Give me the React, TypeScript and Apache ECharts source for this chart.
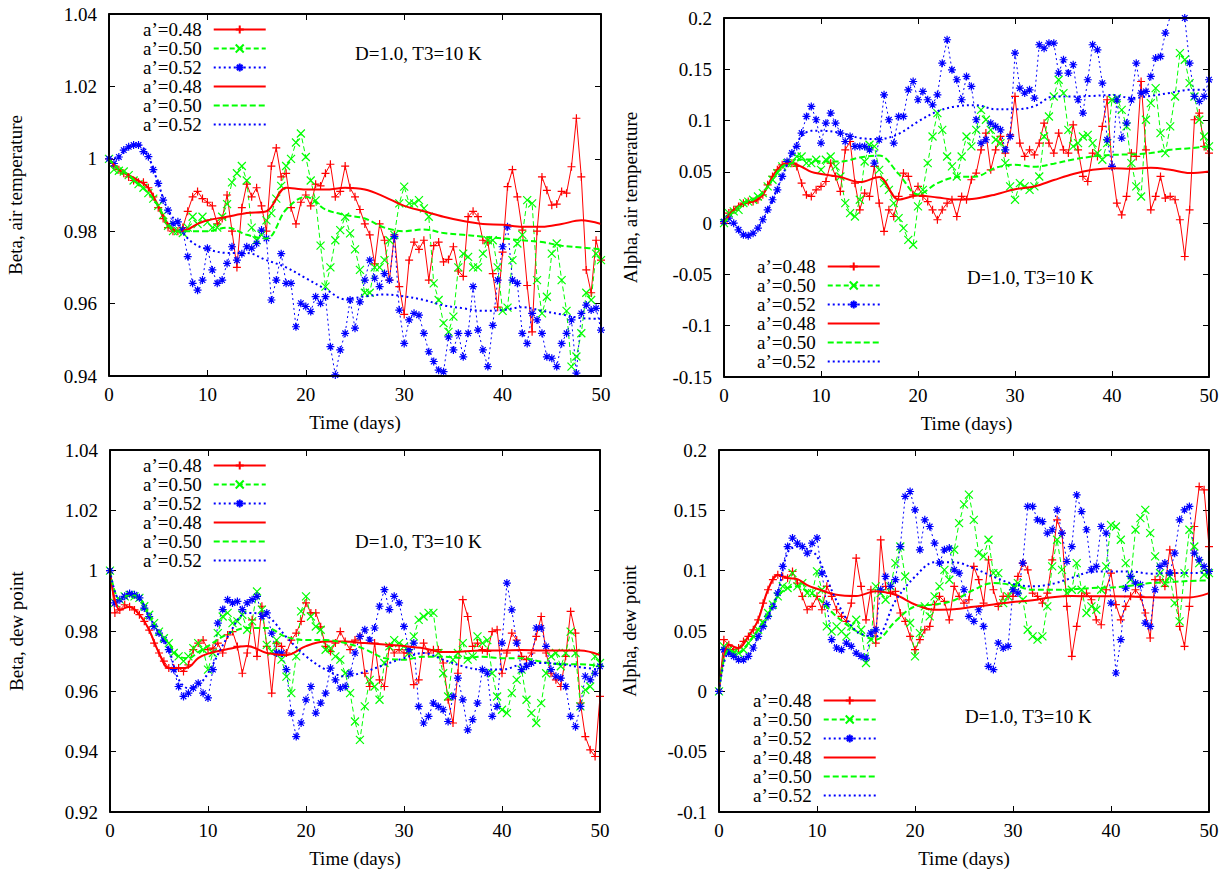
import React, { useEffect, useRef } from "react";
import * as echarts from "echarts";

// ---------- data ----------
const TIME_STEP = 0.5; // days between raw samples
const SMOOTH_DAYS = [0,1,2,3,4,5,6,7,8,9,10,12,14,16,18,20,22,24,26,28,30,32,34,36,38,40,42,44,46,48,50];
const SERIES_NAMES = ["a’=0.48", "a’=0.50", "a’=0.52"];
const NOTE_TEXT = "D=1.0, T3=10 K";
const X_TITLE = "Time (days)";
const Y_TITLES = ["Beta, air temperature", "Alpha, air temperature", "Beta, dew point", "Alpha, dew point"];

// Top-left: Beta, air temperature
const TL_RED = [
  1.000,0.998,0.997,0.996,0.995,0.994,0.9935,0.9935,0.992,0.9895,
  0.9865,0.9835,0.981,0.980,0.980,0.981,0.9855,0.9895,0.991,0.989,
  0.988,0.987,0.982,0.9835,0.990,0.980,0.970,0.9865,0.993,0.9895,
  0.992,0.987,0.980,0.998,1.003,0.995,0.996,0.9865,0.982,0.988,
  0.990,0.987,0.993,0.9925,0.996,0.9985,0.9895,0.991,0.998,0.992,
  0.9895,0.986,0.982,0.979,0.971,0.982,0.9775,0.9665,0.979,0.9647,
  0.957,0.972,0.977,0.975,0.9775,0.9665,0.976,0.977,0.9715,0.9722,
  0.9757,0.969,0.9675,0.984,0.9855,0.984,0.9775,0.977,0.9683,0.959,
  0.9742,0.9923,0.997,0.9895,0.9803,0.965,0.9522,0.980,0.995,0.9913,
  0.9872,0.9875,0.991,0.9905,0.9978,1.0112,0.995,0.9693,0.963,0.9775,
  0.972];
const TL_GREEN = [
  1.0,0.997,0.9967,0.9965,0.9955,0.994,0.993,0.992,0.9905,0.989,
  0.987,0.9845,0.9815,0.980,0.980,0.9795,0.981,0.984,0.982,0.984,
  0.9825,0.981,0.981,0.984,0.9875,0.9935,0.996,0.998,0.994,0.981,
  0.9775,0.979,0.983,0.985,0.989,0.9925,0.998,1.0,1.0045,1.007,
  1.0005,0.994,0.9885,0.976,0.9647,0.970,0.9775,0.9803,0.984,0.9794,
  0.975,0.9693,0.963,0.963,0.970,0.970,0.972,0.9775,0.979,0.9877,
  0.9923,0.9877,0.9877,0.9886,0.9863,0.984,0.9656,0.961,0.9546,0.9522,
  0.9564,0.970,0.9738,0.9729,0.970,0.970,0.9738,0.9775,0.9775,0.970,
  0.958,0.9589,0.972,0.9766,0.979,0.9886,0.9877,0.9665,0.9573,0.9619,
  0.9738,0.9766,0.9665,0.958,0.9426,0.9454,0.9518,0.963,0.961,0.9738,
  0.972];
const TL_BLUE = [
  1.0,0.9987,1.0005,1.0024,1.0033,1.0038,1.0038,1.002,1.0006,0.997,
  0.9932,0.9886,0.9858,0.9821,0.9826,0.9803,0.973,0.9656,0.9637,0.9665,
  0.9753,0.9693,0.9656,0.9665,0.9711,0.9757,0.972,0.9738,0.9757,0.9753,
  0.9766,0.9803,0.978,0.961,0.9665,0.9738,0.9656,0.9656,0.9536,0.9601,
  0.9592,0.9578,0.9619,0.9601,0.9619,0.9481,0.9403,0.9472,0.9518,0.961,
  0.9532,0.9605,0.9665,0.972,0.967,0.9647,0.9683,0.9665,0.9785,0.9582,
  0.949,0.9555,0.9573,0.9568,0.9518,0.9467,0.944,0.9416,0.9412,0.9508,
  0.9472,0.9518,0.9453,0.9518,0.9647,0.9527,0.9472,0.9426,0.954,0.9665,
  0.9757,0.9812,0.9665,0.9656,0.9518,0.949,0.9573,0.9555,0.9518,0.9453,
  0.9449,0.9426,0.949,0.9518,0.9555,0.9408,0.9573,0.9596,0.9582,0.9587,
  0.9527];
const TL_RED_SMOOTH = [1.0,0.997,0.9955,0.994,0.992,0.987,0.982,0.980,0.9805,0.982,0.983,0.984,0.985,0.9855,0.992,0.9915,0.9915,0.992,0.9915,0.9895,0.987,0.9855,0.984,0.9828,0.982,0.9818,0.9812,0.9812,0.982,0.983,0.982];
const TL_GREEN_SMOOTH = [1.0,0.997,0.9955,0.993,0.9905,0.987,0.982,0.980,0.980,0.980,0.980,0.981,0.979,0.978,0.986,0.9895,0.986,0.9845,0.9835,0.981,0.980,0.9805,0.9795,0.979,0.9785,0.978,0.9775,0.977,0.976,0.9755,0.975];
const TL_BLUE_SMOOTH = [1.0,1.0005,1.0033,1.0038,1.0006,0.9932,0.9858,0.982,0.978,0.976,0.975,0.974,0.974,0.972,0.970,0.967,0.964,0.9612,0.962,0.9625,0.962,0.961,0.9595,0.9587,0.958,0.9582,0.959,0.958,0.957,0.956,0.9558];

// Top-right: Alpha, air temperature
const TR_RED = [
  0,0.0098,0.013,0.0163,0.0195,0.021,0.021,0.0228,0.0276,0.0374,
  0.0455,0.052,0.0569,0.0585,0.0585,0.0553,0.039,0.0276,0.026,0.0325,
  0.0358,0.0406,0.0585,0.0455,0.0309,0.0715,0.0796,0.039,0.013,0.0293,
  0.026,0.0553,0.0195,-0.0081,0.013,0.0065,0.026,0.0488,0.0455,0.0276,
  0.0358,0.026,0.021,0.013,0.0033,0.013,0.0195,0.0228,0.0065,0.026,
  0.0228,0.0423,0.0488,0.0715,0.0878,0.052,0.0715,0.0845,0.0683,0.0861,
  0.1235,0.078,0.065,0.0715,0.0666,0.078,0.0975,0.078,0.0683,0.0878,
  0.0715,0.0683,0.0959,0.0715,0.0455,0.0406,0.0683,0.065,0.0943,0.1203,
  0.0553,0.0195,0.0081,0.026,0.0683,0.065,0.1381,0.0715,0.013,0.026,
  0.0455,0.0244,0.026,0.0228,0.0033,-0.0325,0.013,0.1008,0.1073,0.0748,
  0.0683];
const TR_GREEN = [
  0,0.0098,0.0114,0.013,0.0195,0.021,0.0228,0.026,0.0293,0.0358,
  0.0423,0.0488,0.0553,0.0585,0.0585,0.065,0.065,0.0585,0.0585,0.0618,
  0.052,0.0618,0.065,0.0553,0.0455,0.0195,0.0098,0.0065,0.0228,0.0601,
  0.0764,0.0748,0.052,0.039,0.0325,0.0195,0.0049,-0.0049,-0.0163,-0.0211,
  0.0163,0.0325,0.0585,0.0845,0.1073,0.091,0.065,0.0553,0.0455,0.065,
  0.0845,0.0748,0.091,0.1105,0.1008,0.091,0.0813,0.078,0.0585,0.0358,
  0.0228,0.039,0.0358,0.0325,0.0358,0.0455,0.0845,0.104,0.1235,0.1398,
  0.1268,0.091,0.0748,0.078,0.0845,0.0861,0.078,0.0683,0.0618,0.078,
  0.1203,0.1219,0.1105,0.0943,0.0585,0.0358,0.026,0.1008,0.117,0.1316,
  0.0878,0.0683,0.0943,0.1235,0.1658,0.1593,0.1365,0.1235,0.1008,0.0845,
  0.0748];
const TR_BLUE = [
  0.0016,0.0049,0,-0.0065,-0.0114,-0.0124,-0.0098,-0.0049,0.0033,0.013,
  0.0228,0.0325,0.0455,0.0601,0.0683,0.0748,0.0878,0.104,0.1138,0.1008,
  0.078,0.0975,0.1073,0.0975,0.0878,0.0796,0.0845,0.0748,0.0748,0.0748,
  0.0715,0.0585,0.0813,0.1251,0.1008,0.078,0.104,0.104,0.13,0.1381,
  0.1203,0.1284,0.1203,0.1154,0.1251,0.156,0.1788,0.1495,0.1398,0.1203,
  0.143,0.1333,0.1008,0.078,0.0813,0.0975,0.0943,0.091,0.0715,0.0845,
  0.1658,0.1316,0.1268,0.13,0.1219,0.1739,0.1706,0.1755,0.1755,0.1463,
  0.1593,0.1463,0.1544,0.1203,0.1073,0.1398,0.1739,0.169,0.1365,0.0813,
  0.0553,0.1203,0.0829,0.0975,0.1203,0.156,0.1268,0.1284,0.143,0.1609,
  0.1625,0.1853,0.2015,0.215,0.208,0.2,0.156,0.1235,0.1187,0.1235,
  0.1398];
const TR_RED_SMOOTH = [0,0.013,0.0195,0.021,0.0276,0.0455,0.0569,0.0585,0.055,0.05,0.048,0.045,0.04,0.045,0.023,0.027,0.025,0.023,0.024,0.028,0.033,0.0358,0.042,0.048,0.052,0.0536,0.053,0.054,0.052,0.0488,0.0504];
const TR_GREEN_SMOOTH = [0,0.0114,0.0195,0.0228,0.0293,0.0423,0.0553,0.0585,0.062,0.062,0.06,0.06,0.064,0.066,0.048,0.028,0.039,0.045,0.0455,0.054,0.0569,0.055,0.058,0.062,0.065,0.0666,0.067,0.0683,0.0715,0.073,0.0748];
const TR_BLUE_SMOOTH = [0,0,-0.0114,-0.0098,0.0033,0.0228,0.0455,0.0683,0.085,0.09,0.09,0.088,0.083,0.082,0.087,0.099,0.109,0.114,0.115,0.111,0.111,0.114,0.1235,0.1235,0.124,0.125,0.122,0.124,0.127,0.13,0.13];

// Bottom-left: Beta, dew point
const BL_RED = [
  1.0,0.986,0.987,0.9887,0.988,0.987,0.9854,0.9832,0.9803,0.976,
  0.9727,0.970,0.9677,0.9677,0.9677,0.9666,0.9688,0.9738,0.976,0.977,
  0.9738,0.9743,0.976,0.9727,0.9787,0.9798,0.9749,0.966,0.9727,0.9837,
  0.9716,0.9882,0.9749,0.9594,0.976,0.9749,0.9727,0.977,0.9793,0.9832,
  0.9893,0.986,0.986,0.9814,0.9749,0.9732,0.976,0.9798,0.9765,0.9738,
  0.977,0.9782,0.966,0.9616,0.976,0.9638,0.9616,0.9749,0.9727,0.9738,
  0.9727,0.9727,0.9622,0.9638,0.976,0.9727,0.9738,0.9738,0.9694,0.9572,
  0.9495,0.966,0.9904,0.9848,0.9749,0.976,0.9738,0.9732,0.9798,0.9804,
  0.966,0.9727,0.9793,0.977,0.9716,0.9705,0.9727,0.9782,0.9848,0.9727,
  0.966,0.9638,0.9616,0.9716,0.9865,0.9793,0.9561,0.945,0.9406,0.9384,
  0.9583];
const BL_GREEN = [
  1.0,0.9893,0.9904,0.9915,0.992,0.9915,0.991,0.9882,0.9854,0.9826,
  0.9798,0.9776,0.976,0.9727,0.9716,0.970,0.9716,0.9743,0.976,0.9738,
  0.9672,0.9727,0.9793,0.9848,0.986,0.9826,0.9832,0.9854,0.9804,0.9832,
  0.9931,0.9871,0.9754,0.9732,0.977,0.9705,0.9649,0.9594,0.9716,0.9865,
  0.9915,0.9848,0.9815,0.9804,0.9738,0.9743,0.9716,0.9705,0.966,0.9594,
  0.950,0.9439,0.955,0.9638,0.9616,0.9572,0.9694,0.9749,0.977,0.976,
  0.9749,0.9727,0.9782,0.9837,0.9848,0.986,0.986,0.9727,0.966,0.9583,
  0.9705,0.9727,0.976,0.9705,0.9716,0.9782,0.976,0.977,0.966,0.9583,
  0.9539,0.9528,0.9594,0.9638,0.9672,0.9572,0.9528,0.9495,0.9561,0.966,
  0.9716,0.9727,0.9683,0.9727,0.9798,0.9727,0.955,0.9605,0.9616,0.9716,
  0.9694];
const BL_BLUE = [
  1.0,0.9893,0.9904,0.9915,0.9924,0.992,0.991,0.9876,0.9848,0.9815,
  0.9793,0.977,0.9738,0.9672,0.9616,0.9583,0.9594,0.9611,0.9627,0.9594,
  0.9578,0.9672,0.9826,0.9871,0.9904,0.9893,0.9898,0.9871,0.9893,0.9904,
  0.9915,0.9848,0.986,0.9793,0.9727,0.9727,0.9672,0.9528,0.945,0.9495,
  0.9572,0.9616,0.9528,0.9561,0.9594,0.9677,0.9638,0.9611,0.9616,0.966,
  0.9727,0.9782,0.9804,0.977,0.981,0.9882,0.9937,0.9871,0.9915,0.9893,
  0.9815,0.9738,0.976,0.955,0.9495,0.9517,0.9561,0.955,0.9539,0.95,
  0.9583,0.9644,0.9572,0.9472,0.9506,0.9561,0.9672,0.966,0.9517,0.955,
  0.976,0.9959,0.987,0.976,0.9672,0.9683,0.9694,0.981,0.981,0.9749,
  0.9672,0.965,0.9644,0.9616,0.9517,0.9483,0.955,0.965,0.9638,0.966,
  0.9683];
const BL_RED_SMOOTH = [1.0,0.987,0.988,0.9854,0.9803,0.9727,0.9677,0.9677,0.968,0.971,0.9725,0.974,0.975,0.9727,0.972,0.975,0.9765,0.9765,0.976,0.9755,0.975,0.9743,0.973,0.9732,0.9735,0.9735,0.9737,0.9735,0.9735,0.9735,0.972];
const BL_GREEN_SMOOTH = [1.0,0.9904,0.992,0.991,0.9854,0.9798,0.976,0.9716,0.971,0.973,0.975,0.979,0.981,0.981,0.978,0.977,0.977,0.976,0.974,0.971,0.9705,0.9715,0.9715,0.971,0.9715,0.971,0.971,0.9698,0.969,0.969,0.9683];
const BL_BLUE_SMOOTH = [1.0,0.9904,0.9924,0.991,0.9848,0.9793,0.9738,0.964,0.961,0.962,0.966,0.978,0.986,0.985,0.978,0.9716,0.9672,0.965,0.9665,0.9688,0.971,0.9727,0.9705,0.9683,0.9672,0.9672,0.969,0.9694,0.969,0.968,0.9672];

// Bottom-right: Alpha, dew point
const BR_RED = [
  0,0.0428,0.0386,0.0345,0.0359,0.0414,0.0455,0.051,0.0593,0.0731,
  0.0842,0.0925,0.0966,0.0952,0.0938,0.0994,0.0897,0.0787,0.0676,0.0704,
  0.0787,0.0676,0.087,0.0787,0.0676,0.0621,0.058,0.0731,0.1104,0.087,
  0.0593,0.0842,0.04,0.1256,0.087,0.0814,0.0828,0.0649,0.058,0.0455,
  0.0345,0.0428,0.051,0.0538,0.0718,0.0787,0.0745,0.0593,0.087,0.0787,
  0.0731,0.0759,0.1035,0.0925,0.0731,0.109,0.0842,0.0704,0.0787,0.0787,
  0.0787,0.0952,0.1063,0.1007,0.0814,0.0787,0.0731,0.0814,0.109,0.1421,
  0.131,0.0704,0.029,0.0538,0.0787,0.0814,0.0759,0.0593,0.0552,0.0842,
  0.098,0.0718,0.0593,0.0704,0.0787,0.0842,0.0787,0.0649,0.0442,0.0925,
  0.0925,0.087,0.1173,0.098,0.0538,0.0373,0.0704,0.1366,0.1697,0.167,
  0.12];
const BR_GREEN = [
  0,0.0373,0.0345,0.0317,0.0317,0.0345,0.04,0.0455,0.051,0.0566,
  0.0649,0.0718,0.0787,0.087,0.0856,0.098,0.087,0.0897,0.0814,0.0814,
  0.0994,0.0842,0.0538,0.0497,0.0538,0.0497,0.0455,0.0538,0.0593,0.051,
  0.0235,0.0428,0.087,0.0814,0.0759,0.087,0.1063,0.12,0.0952,0.0566,
  0.029,0.0483,0.0704,0.0621,0.0787,0.087,0.1007,0.0925,0.1173,0.1394,
  0.155,0.163,0.1421,0.1145,0.1118,0.1256,0.098,0.098,0.0731,0.0787,
  0.087,0.0897,0.0759,0.051,0.0455,0.0428,0.0455,0.0704,0.1035,0.1256,
  0.1007,0.0814,0.0842,0.1063,0.0842,0.0649,0.0704,0.0676,0.0842,0.1035,
  0.138,0.1366,0.1256,0.1063,0.0925,0.1339,0.1435,0.1504,0.1311,0.1118,
  0.098,0.0897,0.0952,0.0731,0.058,0.098,0.1339,0.12,0.1063,0.0966,
  0.098];
const BR_BLUE = [
  0,0.0345,0.0317,0.029,0.0262,0.0262,0.029,0.0359,0.0455,0.0538,
  0.0621,0.0704,0.0814,0.1035,0.12,0.127,0.1228,0.12,0.1145,0.1228,
  0.127,0.098,0.0718,0.0428,0.0359,0.0345,0.04,0.0373,0.0317,0.029,
  0.0276,0.0483,0.051,0.0842,0.0952,0.087,0.0925,0.12,0.1615,0.1656,
  0.1504,0.1173,0.1421,0.1366,0.1228,0.1063,0.1173,0.1187,0.1007,0.098,
  0.0842,0.0621,0.058,0.0676,0.0538,0.0207,0.018,0.04,0.0359,0.0373,
  0.0842,0.0814,0.1063,0.1532,0.1532,0.1421,0.1407,0.1311,0.1339,0.1504,
  0.1311,0.1076,0.12,0.1628,0.149,0.1339,0.1007,0.1035,0.1366,0.1311,
  0.0731,0.0152,0.0428,0.0856,0.0952,0.0897,0.0883,0.0566,0.0538,0.0842,
  0.1035,0.1063,0.098,0.1145,0.1421,0.1504,0.1532,0.1145,0.109,0.1035,
  0.0994];
const BR_RED_SMOOTH = [0,0.0386,0.0359,0.0455,0.0593,0.0842,0.0966,0.0938,0.093,0.088,0.085,0.08,0.079,0.083,0.080,0.072,0.0676,0.068,0.070,0.072,0.074,0.0755,0.078,0.079,0.0787,0.0787,0.0785,0.078,0.0778,0.0778,0.0814];
const BR_GREEN_SMOOTH = [0,0.0345,0.0317,0.04,0.051,0.0649,0.0787,0.0856,0.087,0.083,0.078,0.062,0.05,0.0428,0.058,0.0704,0.072,0.0755,0.0842,0.0897,0.088,0.0842,0.0842,0.0845,0.0856,0.086,0.0875,0.0897,0.0905,0.0915,0.092];
const BR_BLUE_SMOOTH = [0,0.0317,0.0262,0.029,0.0455,0.0621,0.0814,0.115,0.12,0.118,0.112,0.075,0.05,0.0455,0.075,0.095,0.107,0.107,0.102,0.095,0.089,0.087,0.089,0.094,0.099,0.0994,0.0994,0.0975,0.098,0.098,0.0985];

// ---------- styling / layout ----------
const FONT = "Liberation Serif";
const COLORS = ["#ff0000", "#00ff00", "#0000ff"];
const SYMBOLS = [
  "path://M5,0L5,10M0,5L10,5",
  "path://M0,0L10,10M10,0L0,10",
  "path://M5,0L5,10M0,5L10,5M1.5,1.5L8.5,8.5M8.5,1.5L1.5,8.5",
];
const RAW_DASH: any[] = ["solid", [5, 3], [2, 3]];
const SMOOTH_DASH: any[] = ["solid", [6, 3], [2, 3]];
const ZW = "\u200B"; // marks the smoothed copies so legend entries stay distinct

const PANELS = [
  { grid: { left: 109, top: 14, width: 492, height: 362 }, y: [0.94, 1.04, 0.02], yGap: 84,
    raw: [TL_RED, TL_GREEN, TL_BLUE], smooth: [TL_RED_SMOOTH, TL_GREEN_SMOOTH, TL_BLUE_SMOOTH],
    legend: { left: 143, top: 20 }, note: { x: 355, y: 53 } },
  { grid: { left: 724, top: 18, width: 485, height: 359 }, y: [-0.15, 0.2, 0.05], yGap: 84,
    raw: [TR_RED, TR_GREEN, TR_BLUE], smooth: [TR_RED_SMOOTH, TR_GREEN_SMOOTH, TR_BLUE_SMOOTH],
    legend: { left: 757, top: 257 }, note: { x: 967, y: 277 } },
  { grid: { left: 110, top: 450, width: 490, height: 362 }, y: [0.92, 1.04, 0.02], yGap: 84,
    raw: [BL_RED, BL_GREEN, BL_BLUE], smooth: [BL_RED_SMOOTH, BL_GREEN_SMOOTH, BL_BLUE_SMOOTH],
    legend: { left: 143, top: 456 }, note: { x: 355, y: 541 } },
  { grid: { left: 719, top: 450, width: 490, height: 362 }, y: [-0.1, 0.2, 0.05], yGap: 80,
    raw: [BR_RED, BR_GREEN, BR_BLUE], smooth: [BR_RED_SMOOTH, BR_GREEN_SMOOTH, BR_BLUE_SMOOTH],
    legend: { left: 753, top: 691 }, note: { x: 965, y: 716 } },
];

function buildOption() {
  const grid: any[] = [];
  const xAxis: any[] = [];
  const yAxis: any[] = [];
  const series: any[] = [];
  const legend: any[] = [];
  const graphic: any[] = [];
  const tick = { show: true, inside: true, length: 6, lineStyle: { color: "#000", width: 1 } };
  const line = { show: true, onZero: false, lineStyle: { color: "#000", width: 1.5 } };
  const label = { color: "#000", fontFamily: FONT, fontSize: 19 };

  PANELS.forEach((p, g) => {
    grid.push({ ...p.grid, show: true, borderColor: "#000", borderWidth: 1.5, containLabel: false });
    const [ymin, ymax, ystep] = p.y;
    xAxis.push({
      gridIndex: g, type: "value", min: 0, max: 50, interval: 10, position: "bottom",
      axisLine: { ...line }, axisTick: { ...tick }, splitLine: { show: false },
      axisLabel: { ...label, margin: 9 },
      name: X_TITLE, nameLocation: "middle", nameGap: 37,
      nameTextStyle: { color: "#000", fontFamily: FONT, fontSize: 19 },
    });
    xAxis.push({
      gridIndex: g, type: "value", min: 0, max: 50, interval: 10, position: "top",
      axisLine: { ...line }, axisTick: { ...tick }, splitLine: { show: false }, axisLabel: { show: false },
    });
    yAxis.push({
      gridIndex: g, type: "value", min: ymin, max: ymax, interval: ystep, position: "left",
      axisLine: { ...line }, axisTick: { ...tick }, splitLine: { show: false },
      axisLabel: { ...label, margin: 12 },
      name: Y_TITLES[g], nameLocation: "middle", nameGap: p.yGap,
      nameTextStyle: { color: "#000", fontFamily: FONT, fontSize: 19 },
    });
    yAxis.push({
      gridIndex: g, type: "value", min: ymin, max: ymax, interval: ystep, position: "right",
      axisLine: { ...line }, axisTick: { ...tick }, splitLine: { show: false }, axisLabel: { show: false },
    });

    p.raw.forEach((vals, k) => {
      series.push({
        type: "line", name: SERIES_NAMES[k], xAxisIndex: 2 * g, yAxisIndex: 2 * g,
        data: vals.map((v, i) => [i * TIME_STEP, v]),
        symbol: SYMBOLS[k], symbolSize: 8, showSymbol: true,
        lineStyle: { color: COLORS[k], width: 1, type: RAW_DASH[k] },
        itemStyle: { color: COLORS[k], borderColor: COLORS[k], borderWidth: 1.2 },
        z: 2, silent: true, clip: true,
      });
    });
    p.smooth.forEach((vals, k) => {
      series.push({
        type: "line", name: SERIES_NAMES[k] + ZW, xAxisIndex: 2 * g, yAxisIndex: 2 * g,
        data: SMOOTH_DAYS.map((d, i) => [d, vals[i]]),
        symbol: "none", smooth: 0.35,
        lineStyle: { color: COLORS[k], width: 2, type: SMOOTH_DASH[k] },
        itemStyle: { color: COLORS[k] },
        z: 3, silent: true, clip: true,
      });
    });

    legend.push({
      orient: "vertical", left: p.legend.left, top: p.legend.top, align: "right", padding: 0,
      itemWidth: 52, itemHeight: 10, itemGap: 0, selectedMode: false,
      data: [
        ...SERIES_NAMES.map((n) => ({ name: n })),
        ...SERIES_NAMES.map((n) => ({ name: n + ZW, itemStyle: { opacity: 0 } })),
      ],
      formatter: (n: string) => n.replace(ZW, ""),
      textStyle: { color: "#000", fontFamily: FONT, fontSize: 19, lineHeight: 18, padding: [0, 7, 0, 0] },
    });

    // plot frame: four edges drawn as separate lines
    const { left: L, top: T, width: W, height: H } = p.grid;
    const edges = [
      [L, T, L + W, T], [L, T + H, L + W, T + H], [L, T, L, T + H], [L + W, T, L + W, T + H],
    ];
    edges.forEach(([x1, y1, x2, y2]) => {
      graphic.push({
        type: "line", z: 100, silent: true,
        shape: { x1, y1, x2, y2 },
        style: { stroke: "#000000", lineWidth: 1.5 },
      });
    });
    graphic.push({
      type: "text", x: p.note.x, y: p.note.y, z: 100,
      style: { text: NOTE_TEXT, font: `19px "${FONT}"`, fill: "#000", verticalAlign: "middle" },
    });
  });

  return { animation: false, backgroundColor: "#fff", grid, xAxis, yAxis, series, legend, graphic };
}

export default function App() {
  const ref = useRef<HTMLDivElement>(null);
  useEffect(() => {
    if (!ref.current) return;
    const chart = echarts.init(ref.current, null, { renderer: "svg" });
    chart.setOption(buildOption());
    return () => chart.dispose();
  }, []);
  return (
    <div
      ref={ref}
      style={{ position: "fixed", left: 0, top: 0, width: 1226, height: 875, background: "#fff" }}
    />
  );
}
